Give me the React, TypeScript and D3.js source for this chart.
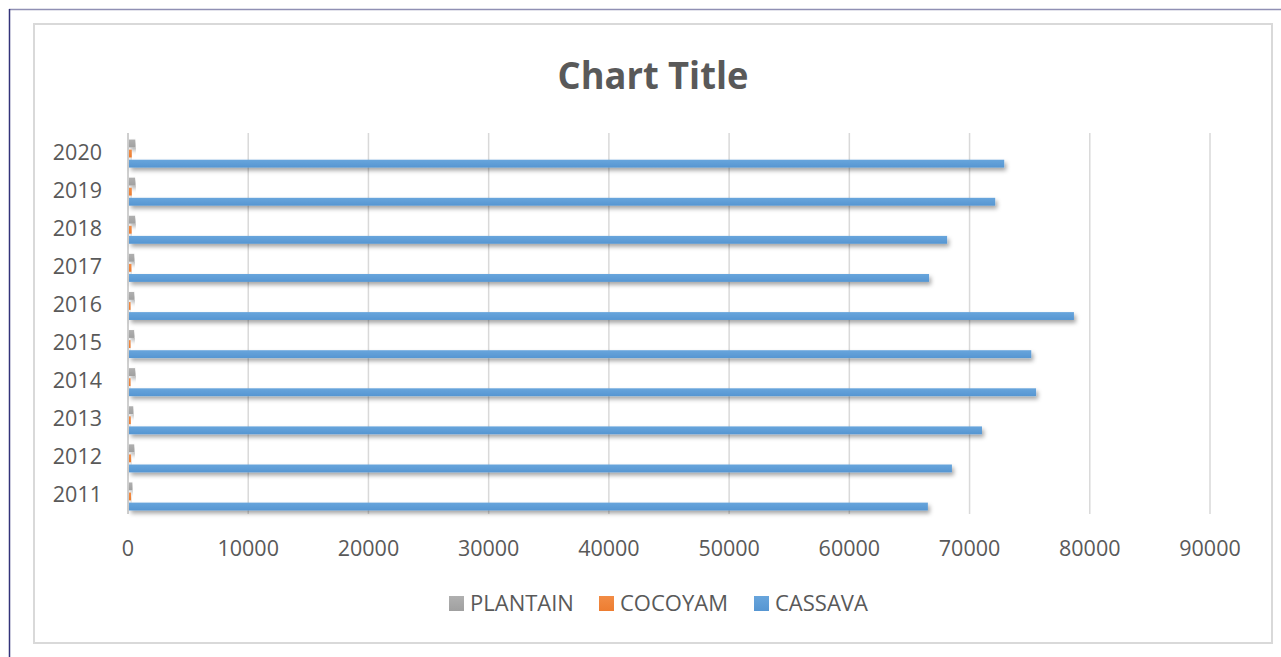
import React from "react";
import * as d3 from "d3";

const years = ["2011", "2012", "2013", "2014", "2015", "2016", "2017", "2018", "2019", "2020"];
const seriesNames = ["PLANTAIN", "COCOYAM", "CASSAVA"];
const cassava = [66450, 68450, 70950, 75450, 75050, 78600, 66550, 68050, 72050, 72800];
const cocoyam = [170, 170, 150, 130, 130, 130, 200, 220, 230, 230];
const plantain = [280, 430, 350, 500, 420, 430, 430, 500, 500, 520];
const xTicks = [0, 10000, 20000, 30000, 40000, 50000, 60000, 70000, 80000, 90000];
const colors: Record<string, string> = { PLANTAIN: "#a0a0a0", COCOYAM: "#ed7d31", CASSAVA: "#5696d2" };
const light: Record<string, string> = { PLANTAIN: "#b0b0b0", COCOYAM: "#f28c45", CASSAVA: "#68a5dc" };

const dataBySeries: Record<string, number[]> = { PLANTAIN: plantain, COCOYAM: cocoyam, CASSAVA: cassava };

const FONT = "'Open Sans', Calibri, sans-serif";
const TXT = "#595959";

export default function App() {
  const W = 1281, H = 657;
  const x = d3.scaleLinear().domain([0, 90000]).range([128, 1210]);
  const y0 = d3.scaleBand().domain([...years].reverse()).range([133, 514]).paddingInner(0).paddingOuter(0);
  const y1 = d3.scaleBand().domain(seriesNames).range([0, y0.bandwidth()]).paddingInner(0.22).paddingOuter(0.5).align(0.65);
  const [yTop, yBot] = y0.range();

  const legendItems = [
    { name: "PLANTAIN", x: 449 },
    { name: "COCOYAM", x: 599 },
    { name: "CASSAVA", x: 754 },
  ];

  return (
    <svg width={W} height={H} style={{ position: "absolute", left: 0, top: 0, background: "#fff" }}>
      <defs>
        <filter id="shadow" x="-5%" y="-50%" width="110%" height="250%">
          <feDropShadow dx="2" dy="3" stdDeviation="2" floodColor="#000" floodOpacity="0.35" />
        </filter>
        {seriesNames.map((s) => (
          <linearGradient key={s} id={"g-" + s} x1="0" y1="0" x2="0" y2="1">
            <stop offset="0" stopColor={light[s]} />
            <stop offset="1" stopColor={colors[s]} />
          </linearGradient>
        ))}
      </defs>
      <rect x={0} y={0} width={W} height={H} fill="#fff" />
      {/* outer frame */}
      <line x1={9} y1={9.5} x2={W} y2={9.5} stroke="#9090b4" strokeWidth={1.5} />
      <line x1={9.5} y1={9} x2={9.5} y2={H} stroke="#33337a" strokeWidth={1.5} />
      {/* chart border */}
      <rect x={34} y={24} width={1238} height={619} fill="#fff" stroke="#d9d9d9" strokeWidth={2} />

      <text x={653} y={89} textAnchor="middle" fontFamily={FONT} fontWeight="bold" fontSize={38} fill={TXT}
        textLength={191} lengthAdjust="spacingAndGlyphs">
        Chart Title
      </text>

      {/* gridlines */}
      {xTicks.map((t) => (
        <line key={t} x1={x(t)} x2={x(t)} y1={yTop} y2={yBot} stroke={t === 0 ? "#bfbfbf" : "#d9d9d9"} strokeWidth={1.5} />
      ))}

      {/* bars */}
      {years.map((yr, i) => (
        <g key={yr} transform={`translate(0,${y0(yr)})`}>
          {seriesNames.map((s) => (
            <rect
              key={s}
              x={x(0) + 1}
              y={y1(s)}
              width={Math.max(0, x(dataBySeries[s][i]) - x(0))}
              height={y1.bandwidth()}
              fill={`url(#g-${s})`}
              filter="url(#shadow)"
            />
          ))}
        </g>
      ))}

      {/* y labels */}
      {years.map((yr) => (
        <text key={yr} x={102} y={(y0(yr) as number) + y0.bandwidth() / 2} dy="0.35em" textAnchor="end" fontFamily={FONT} fontSize={21.5} fill={TXT}>
          {yr}
        </text>
      ))}

      {/* x labels */}
      {xTicks.map((t) => (
        <text key={t} x={x(t)} y={556} textAnchor="middle" fontFamily={FONT} fontSize={21.5} fill={TXT}>
          {t}
        </text>
      ))}

      {/* legend */}
      {legendItems.map((it) => (
        <g key={it.name}>
          <rect x={it.x} y={596} width={15} height={15} fill={`url(#g-${it.name})`} />
          <text x={it.x + 21} y={611} fontFamily={FONT} fontSize={22} fill={TXT}>
            {it.name}
          </text>
        </g>
      ))}
    </svg>
  );
}
